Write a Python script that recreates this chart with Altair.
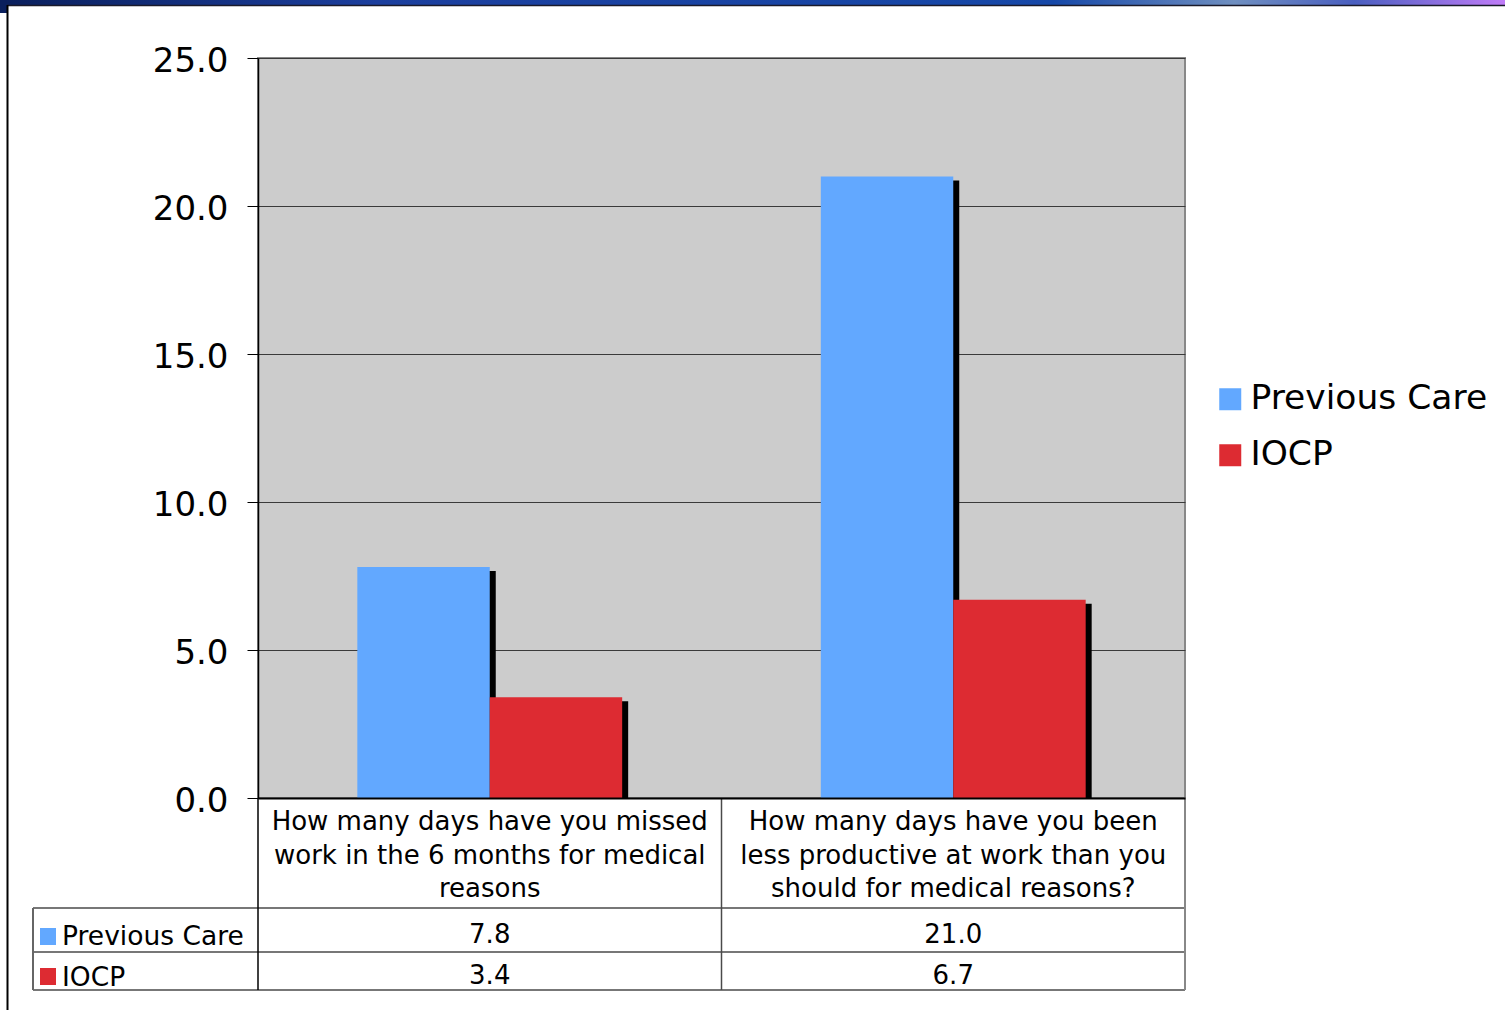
import altair as alt
import pandas as pd

# ---------------- data ----------------
categories = ["missed", "productive"]
category_labels = [
    "How many days have you missed\nwork in the 6 months for medical\nreasons",
    "How many days have you been\nless productive at work than you\nshould for medical reasons?",
]
series = ["Previous Care", "IOCP"]
previous_care = [7.8, 21.0]
iocp = [3.4, 6.7]
colors = ["#62A8FF", "#DD2B32"]
y_ticks = [0, 5, 10, 15, 20, 25]

rows = []
for i, c in enumerate(categories):
    rows.append({"cat": c, "series": series[0], "value": previous_care[i]})
    rows.append({"cat": c, "series": series[1], "value": iocp[i]})
df = pd.DataFrame(rows)
df["label"] = df["value"].map(lambda v: f"{v:.1f}")
cat_df = pd.DataFrame({"cat": categories, "text": category_labels})
legend_df = pd.DataFrame({"series": series, "color": colors})

W, H = 927, 740
FONT = "DejaVu Sans"
LINE = "#4a4a4a"

x_enc = alt.X(
    "cat:N",
    scale=alt.Scale(domain=categories, paddingInner=0, paddingOuter=0),
    axis=alt.Axis(labels=False, ticks=False, title=None, domainColor="black",
                  domainWidth=2, zindex=1, grid=False),
)
y_enc = alt.Y(
    "value:Q",
    scale=alt.Scale(domain=[0, 25], nice=False),
    axis=alt.Axis(values=y_ticks, format=".1f", title=None, labelFont=FONT,
                  labelFontSize=34, labelColor="black", tickColor="black",
                  tickSize=11, labelPadding=19, labelOffset=3, domainColor="black",
                  domainWidth=1.5, gridColor="#3a3a3a", gridWidth=1),
)

shadow = alt.Chart(df).mark_bar(color="black", yOffset=4).encode(
    x=x_enc,
    xOffset=alt.XOffset("series:N", scale=alt.Scale(domain=series, paddingInner=0,
                                                    paddingOuter=0.75, range=[6, W / 2 + 6])),
    y=y_enc,
)

bars = alt.Chart(df).mark_bar().encode(
    x=x_enc,
    xOffset=alt.XOffset("series:N", scale=alt.Scale(domain=series, paddingInner=0,
                                                    paddingOuter=0.75, range=[0, W / 2])),
    y=y_enc,
    color=alt.Color("series:N", scale=alt.Scale(domain=series, range=colors),
                    legend=alt.Legend(orient="none", legendX=955, legendY=324, title=None,
                                      labelFont=FONT, labelFontSize=34.5, labelColor="black",
                                      labelLimit=500,
                                      symbolType="square", symbolSize=484,
                                      symbolStrokeWidth=0, symbolOpacity=1,
                                      rowPadding=21, labelOffset=3, padding=0)),
)

one = pd.DataFrame({"k": [0]})

# white box below the plot (hides the shadow overflow under the baseline)
below = alt.Chart(one).mark_rect(color="white").encode(
    x=alt.value(0), x2=alt.value(W + 2), y=alt.value(741), y2=alt.value(849))

cat_text = alt.Chart(cat_df).mark_text(
    lineBreak="\n", lineHeight=33.5, fontSize=26, font=FONT, baseline="middle",
    color="black"
).encode(x=x_enc, y=alt.value(764), text="text:N")

val1 = alt.Chart(df).transform_filter(alt.datum.series == series[0]).mark_text(
    fontSize=26, font=FONT, baseline="middle", color="black"
).encode(x=x_enc, y=alt.value(877), text="label:N")
val2 = alt.Chart(df).transform_filter(alt.datum.series == series[1]).mark_text(
    fontSize=26, font=FONT, baseline="middle", color="black"
).encode(x=x_enc, y=alt.value(918), text="label:N")

row_layers = []
for s, base_y, sq_y in [(series[0], 887, 870), (series[1], 928, 910)]:
    sub = legend_df[legend_df["series"] == s]
    row_layers.append(
        alt.Chart(sub).mark_text(fontSize=26.5, font=FONT, align="left",
                                 baseline="alphabetic", color="black").encode(
            x=alt.value(-196), y=alt.value(base_y), text="series:N")
    )
    row_layers.append(
        alt.Chart(sub).mark_rect().encode(
            x=alt.value(-218), x2=alt.value(-202), y=alt.value(sq_y), y2=alt.value(sq_y + 17),
            color=alt.Color("color:N", scale=None))
    )


def hline(y, x1, x2, color=LINE, w=1.5):
    return alt.Chart(one).mark_rule(color=color, strokeWidth=w).encode(
        y=alt.value(y), x=alt.value(x1), x2=alt.value(x2))


def vline(x, y1, y2, color=LINE, w=1.5):
    return alt.Chart(one).mark_rule(color=color, strokeWidth=w).encode(
        x=alt.value(x), y=alt.value(y1), y2=alt.value(y2))


lines = [
    hline(850, -225, W),
    hline(894, -225, W),
    hline(932, -225, W, color="#777777", w=2),
    vline(-225, 850, 932, color="#666666", w=2),
    vline(0, 740, 932, color="black", w=1.5),
    vline(W / 2, 740, 932),
    vline(W, 740, 932, color="#888888", w=2),
]

# slide decoration: top gradient strip and left border line
grad = alt.Gradient(
    gradient="linear",
    stops=[alt.GradientStop(offset=0, color="#0a1f5c"),
           alt.GradientStop(offset=0.25, color="#1c3f9e"),
           alt.GradientStop(offset=0.7, color="#1648a8"),
           alt.GradientStop(offset=0.82, color="#6f8fc0"),
           alt.GradientStop(offset=0.9, color="#4a5fc0"),
           alt.GradientStop(offset=1, color="#c07cf8")],
    x1=0, x2=1, y1=0, y2=0,
)
strip = alt.Chart(one).mark_rect(color=grad).encode(
    x=alt.value(-258), x2=alt.value(1247), y=alt.value(-58), y2=alt.value(-53))
corner = alt.Chart(one).mark_rect(color="#0a1f5c").encode(
    x=alt.value(-258), x2=alt.value(-251), y=alt.value(-58), y2=alt.value(-45))
strip_line = hline(-52.5, -251, 1247, color="#1a1a2a", w=1.5)
left_line = vline(-250.5, -53, 952, color="black", w=2)

chart = alt.layer(
    shadow, bars, below, cat_text, val1, val2, *row_layers, *lines,
    strip, corner, strip_line, left_line,
).resolve_scale(
    xOffset="independent", color="independent"
).properties(
    width=W, height=H,
    autosize=alt.AutoSizeParams(type="none"),
    padding={"left": 258, "top": 58, "right": 320, "bottom": 212},
    background="white",
).configure_view(
    stroke="#888888", strokeWidth=2, fill="#cccccc"
)

chart.save("out.html", embed_options={"renderer": "svg", "actions": False})
